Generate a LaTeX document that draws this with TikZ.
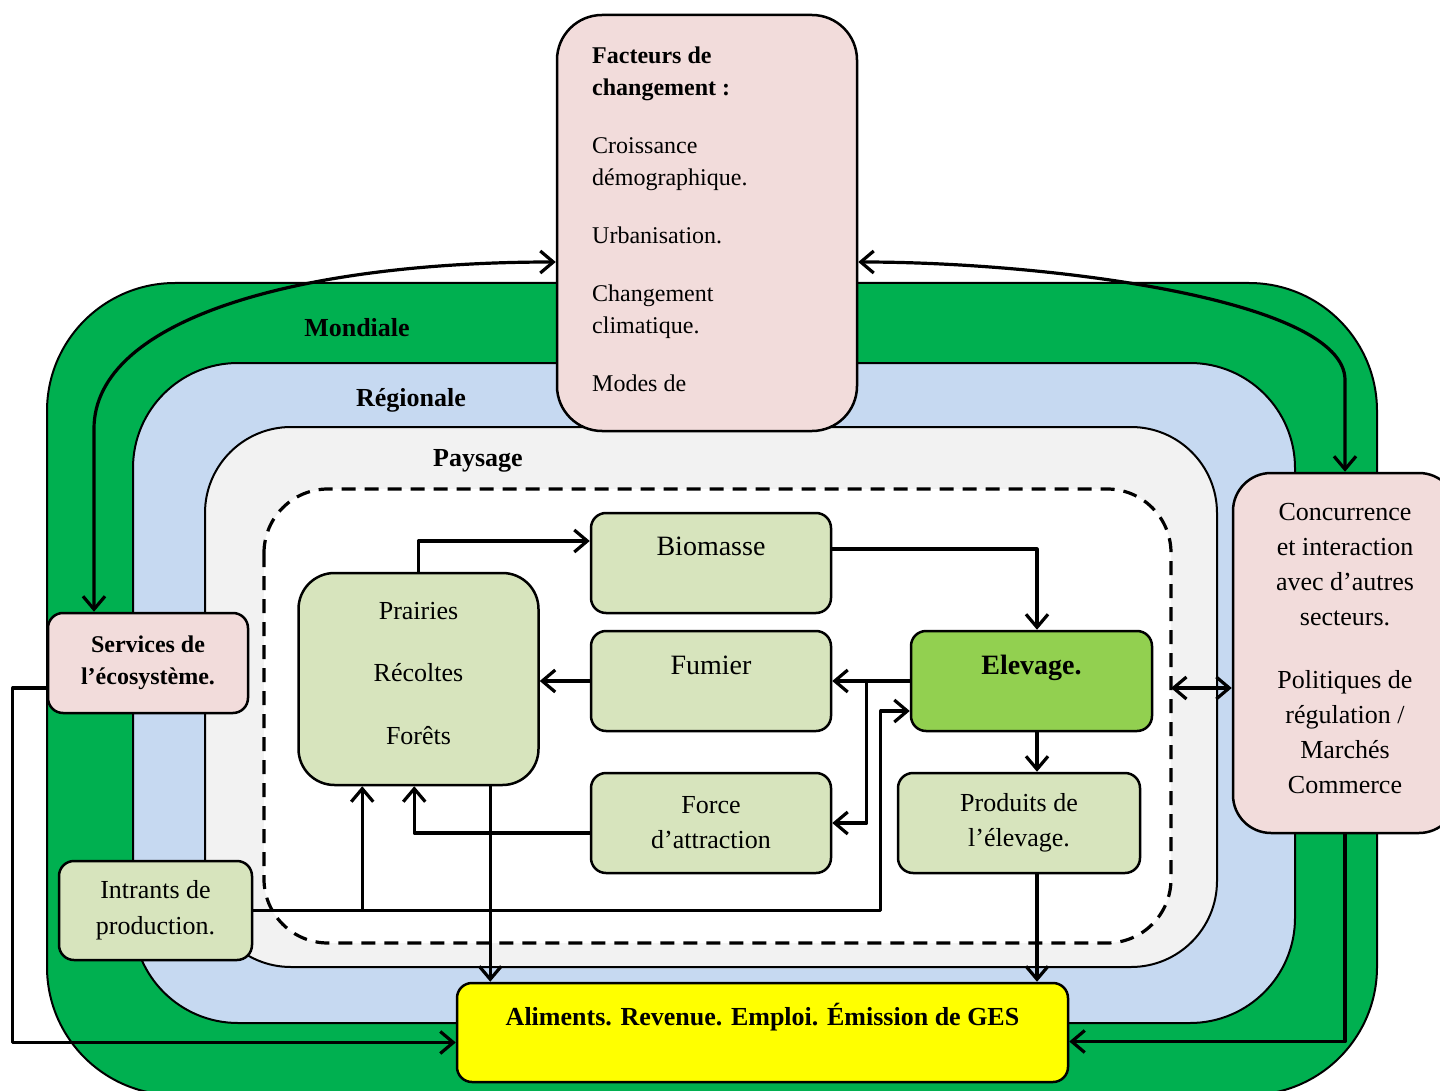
\documentclass[tikz,border=0pt]{standalone}
\usepackage{fontspec}
\setmainfont{Liberation Serif}
\usetikzlibrary{arrows.meta,calc}
\definecolor{mondgreen}{HTML}{00B050}
\definecolor{regblue}{HTML}{C6D9F1}
\definecolor{paysgrey}{HTML}{F2F2F2}
\definecolor{boxpink}{HTML}{F2DCDB}
\definecolor{boxgreen}{HTML}{D7E4BD}
\definecolor{elevgreen}{HTML}{92D050}
\definecolor{outyellow}{HTML}{FFFF00}
\newcommand{\szlarge}{\fontsize{28}{34}\selectfont}
\newcommand{\szmid}{\fontsize{26}{35}\selectfont}
\newcommand{\szsmall}{\fontsize{24}{32}\selectfont}

\begin{document}
\begin{tikzpicture}[x=1pt,y=-1pt,>={Straight Barb[length=13pt,width=22pt]},line join=round,
  layer/.style={draw=black,line width=2pt},
  box/.style={draw=black,line width=2.5pt,rounded corners=15pt,inner sep=0pt,align=center},
  flow/.style={->,line width=3.2pt}]
\useasboundingbox (0,0) rectangle (1440,1091);
\clip (0,0) rectangle (1440,1091);
% nested scales
\draw[layer,fill=mondgreen,rounded corners=128pt] (47,283) rectangle (1377,1095);
\draw[layer,fill=regblue,rounded corners=105pt] (133,363) rectangle (1295,1023);
\draw[layer,fill=paysgrey,rounded corners=86pt] (205,427) rectangle (1217,967);
\draw[line width=3.2pt,dash pattern=on 14pt off 9pt,fill=white,rounded corners=64pt] (264,489) rectangle (1171,943);
\coordinate (zoneE) at (1171,688);
\node[font=\szmid\bfseries,anchor=base] (mondiale) at (357,336) {Mondiale};
\node[font=\szmid\bfseries,anchor=base] (regionale) at (411,406) {Régionale};
\node[font=\szmid\bfseries,anchor=base] (paysage) at (478,466) {Paysage};
% boxes
\node[box,fill=boxpink,rounded corners=45pt,minimum width=300pt,minimum height=416pt] (facteurs) at (707,223) {};
\node[anchor=north west,inner sep=0pt,align=left,font={\fontsize{24}{32}\selectfont}] (facteurstxt) at (592,47)
  {\textbf{Facteurs de}\\\textbf{changement :}\\[26pt]Croissance\\démographique.\\[26pt]Urbanisation.\\[26pt]Changement\\climatique.\\[26pt]Modes de};
\node[box,fill=boxgreen,minimum width=240pt,minimum height=100pt,
  label={[anchor=base,yshift=-44pt,font=\szlarge]north:Biomasse}] (biomasse) at (711,563) {};
\node[box,fill=boxgreen,minimum width=240pt,minimum height=100pt,
  label={[anchor=base,yshift=-45pt,font=\szlarge]north:Fumier}] (fumier) at (711,681) {};
\node[box,fill=boxgreen,minimum width=240pt,minimum height=100pt,font=\szmid] (force) at (711,823) {Force\\d’attraction};
\node[box,fill=boxgreen,rounded corners=36pt,minimum width=240pt,minimum height=212pt,text depth=12pt,
  font={\fontsize{26}{31.5}\selectfont}] (prairies) at (418.5,679)
  {Prairies\\[31pt]Récoltes\\[31pt]Forêts};
\node[box,fill=elevgreen,minimum width=241pt,minimum height=100pt,
  label={[anchor=base,yshift=-45pt,font=\szlarge\bfseries]north:Elevage.}] (elevage) at (1031.5,681) {};
\node[box,fill=boxgreen,minimum width=242pt,minimum height=100pt,font=\szmid] (produits) at (1019,823) {Produits de\\l’élevage.};
\node[box,fill=boxgreen,minimum width=193pt,minimum height=99pt,font={\fontsize{26}{36}\selectfont}] (intrants) at (155.5,910.5) {Intrants de\\production.};
\node[box,fill=boxpink,minimum width=200pt,minimum height=100pt,font=\szsmall\bfseries] (services) at (148,663) {Services de\\l’écosystème.};
\node[box,fill=outyellow,minimum width=611pt,minimum height=99pt,
  label={[anchor=base,yshift=-44pt,font={\fontsize{26}{32}\selectfont\bfseries}]north:Aliments. Revenue. Emploi. Émission de GES}] (aliments) at (762.5,1032.5) {};
\node[box,fill=boxpink,rounded corners=38pt,minimum width=224pt,minimum height=360pt,text depth=10pt,font=\szmid] (concur) at (1345,653)
  {Concurrence\\et interaction\\avec d’autres\\secteurs.\\[28pt]Politiques de\\régulation /\\Marchés\\Commerce};
% links
\draw[flow] (prairies.north) |- ([yshift=22pt]biomasse.west);
\draw[flow] ([yshift=14pt]biomasse.east) -| ([xshift=5.5pt]elevage.north);
\draw[flow] (fumier.west) -- (prairies.east |- fumier.west);
\draw[flow] (elevage.west) -- (fumier.east);
\coordinate (split) at ([xshift=-43pt]elevage.west);
\draw[flow] (split) |- (force.east);
\coordinate (inA) at ([xshift=65pt]prairies.south west);
\draw[flow] (intrants.east) -| (inA);
\draw[flow] (intrants.east -| inA) -| ([xshift=-29pt,yshift=-30pt]elevage.west) -- ([yshift=-30pt]elevage.west);
\coordinate (inF) at ([xshift=117pt]prairies.south west);
\draw[flow] ([yshift=-10pt]force.west) -| (inF);
\coordinate (outP) at ([xshift=193pt]prairies.south west);
\draw[flow] (outP) -- (outP |- aliments.north);
\draw[flow] ([xshift=5.5pt]elevage.south) -- ([xshift=5.5pt]elevage.south |- produits.north);
\draw[flow] ([xshift=18pt]produits.south) -- ([xshift=18pt]produits.south |- aliments.north);
\draw[flow] ([yshift=-25pt]services.west) -- ++(-34,0) |- ([yshift=-10pt]aliments.west);
\draw[flow] (concur.south) |- ([yshift=-9pt]aliments.east);
\draw[flow,<->] (zoneE) -- (zoneE -| concur.west);
% feedback with drivers
\draw[flow,<->] ([xshift=-54pt]services.north) -- ++(0,-183) .. controls +(0,-110) and (300,262) .. ([yshift=-39pt]facteurs.west);
\draw[flow,<->] ([yshift=-39pt]facteurs.east) .. controls (1050,262) and (1345,300) .. (1345,380) -- (concur.north);
\end{tikzpicture}
\end{document}
